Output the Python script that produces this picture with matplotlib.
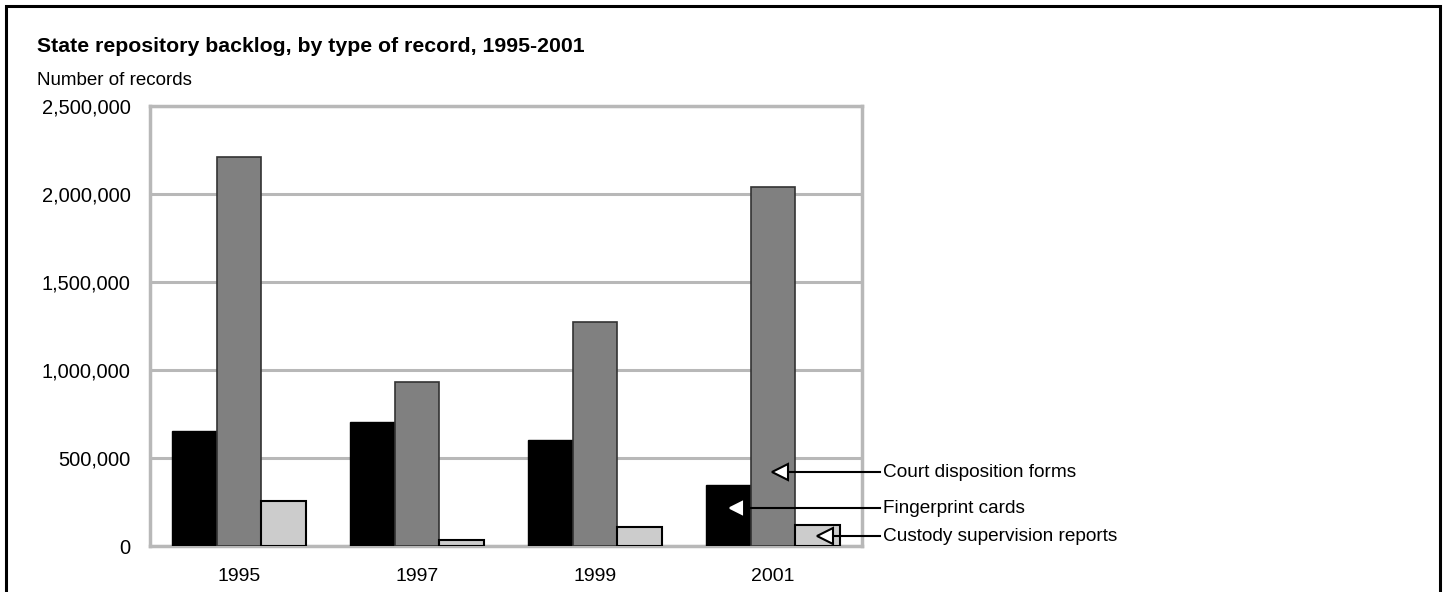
import numpy as np
import matplotlib
matplotlib.use("Agg")
import matplotlib.pyplot as plt
from matplotlib.patches import Rectangle

plt.rcParams['font.family'] = ['Liberation Sans', 'DejaVu Sans']

years = ['1995', '1997', '1999', '2001']
fingerprint = [655000, 705000, 602000, 347000]
court = [2209000, 930000, 1270000, 2040000]
custody = [257000, 34000, 110000, 119000]
yticks = [0, 500000, 1000000, 1500000, 2000000, 2500000]

fig = plt.figure(figsize=(14.46, 5.92), dpi=100)
ax = fig.add_axes([150/1446, 1-546/592, 712/1446, 440/592])

x = np.arange(len(years)) + 0.5
w = 0.25
ax.bar(x - w, fingerprint, w, color='black', edgecolor='black', lw=1, zorder=3)
ax.bar(x, court, w, color='#808080', edgecolor='#333333', lw=1.2, zorder=3)
ax.bar(x + w, custody, w, color='#cccccc', edgecolor='black', lw=1.5, zorder=3)

ax.set_xlim(0, 4)
ax.set_ylim(0, 2500000)
ax.set_yticks(yticks)
ax.set_yticklabels([f'{v:,}' for v in yticks])
ax.set_xticks(x)
ax.set_xticklabels(years)
ax.tick_params(axis='both', length=0)
ax.tick_params(axis='y', pad=14, labelsize=14.5)
ax.tick_params(axis='x', pad=16, labelsize=14)
ax.yaxis.grid(True, color='#b8b8b8', lw=2.2, zorder=1)
for s in ax.spines.values():
    s.set_color('#b8b8b8')
    s.set_linewidth(2.5)
    s.set_zorder(2)

# labels with arrows
labels = ['Court disposition forms', 'Fingerprint cards', 'Custody supervision reports']
ly = [420000, 215000, 55000]
lx = [3.54, 3.29, 3.79]
sizes = [11, 8.5, 11]
edges = ['black', 'white', 'black']
for lab, yy, xx, ms, ec in zip(labels, ly, lx, sizes, edges):
    ax.plot([xx, 4.1], [yy, yy], color='black', lw=1.5, clip_on=False, zorder=5)
    ax.plot(xx, yy, marker='<', ms=ms, mfc='white', mec=ec, mew=1.5, clip_on=False, zorder=6)
    ax.text(4.12, yy, lab, fontsize=13.7, va='center', ha='left')

fig.text(37/1446, 1-52/592, 'State repository backlog, by type of record, 1995-2001',
         fontsize=15.3, fontweight='bold', va='baseline', ha='left')
fig.text(37/1446, 1-85/592, 'Number of records', fontsize=13.5, va='baseline', ha='left')

fig.patches.append(Rectangle((6/1446, -0.05), 1434/1446, 1 - 6/592 + 0.05,
                             transform=fig.transFigure, fill=False,
                             edgecolor='black', lw=2.2))

fig.savefig('out.png', dpi=100)
